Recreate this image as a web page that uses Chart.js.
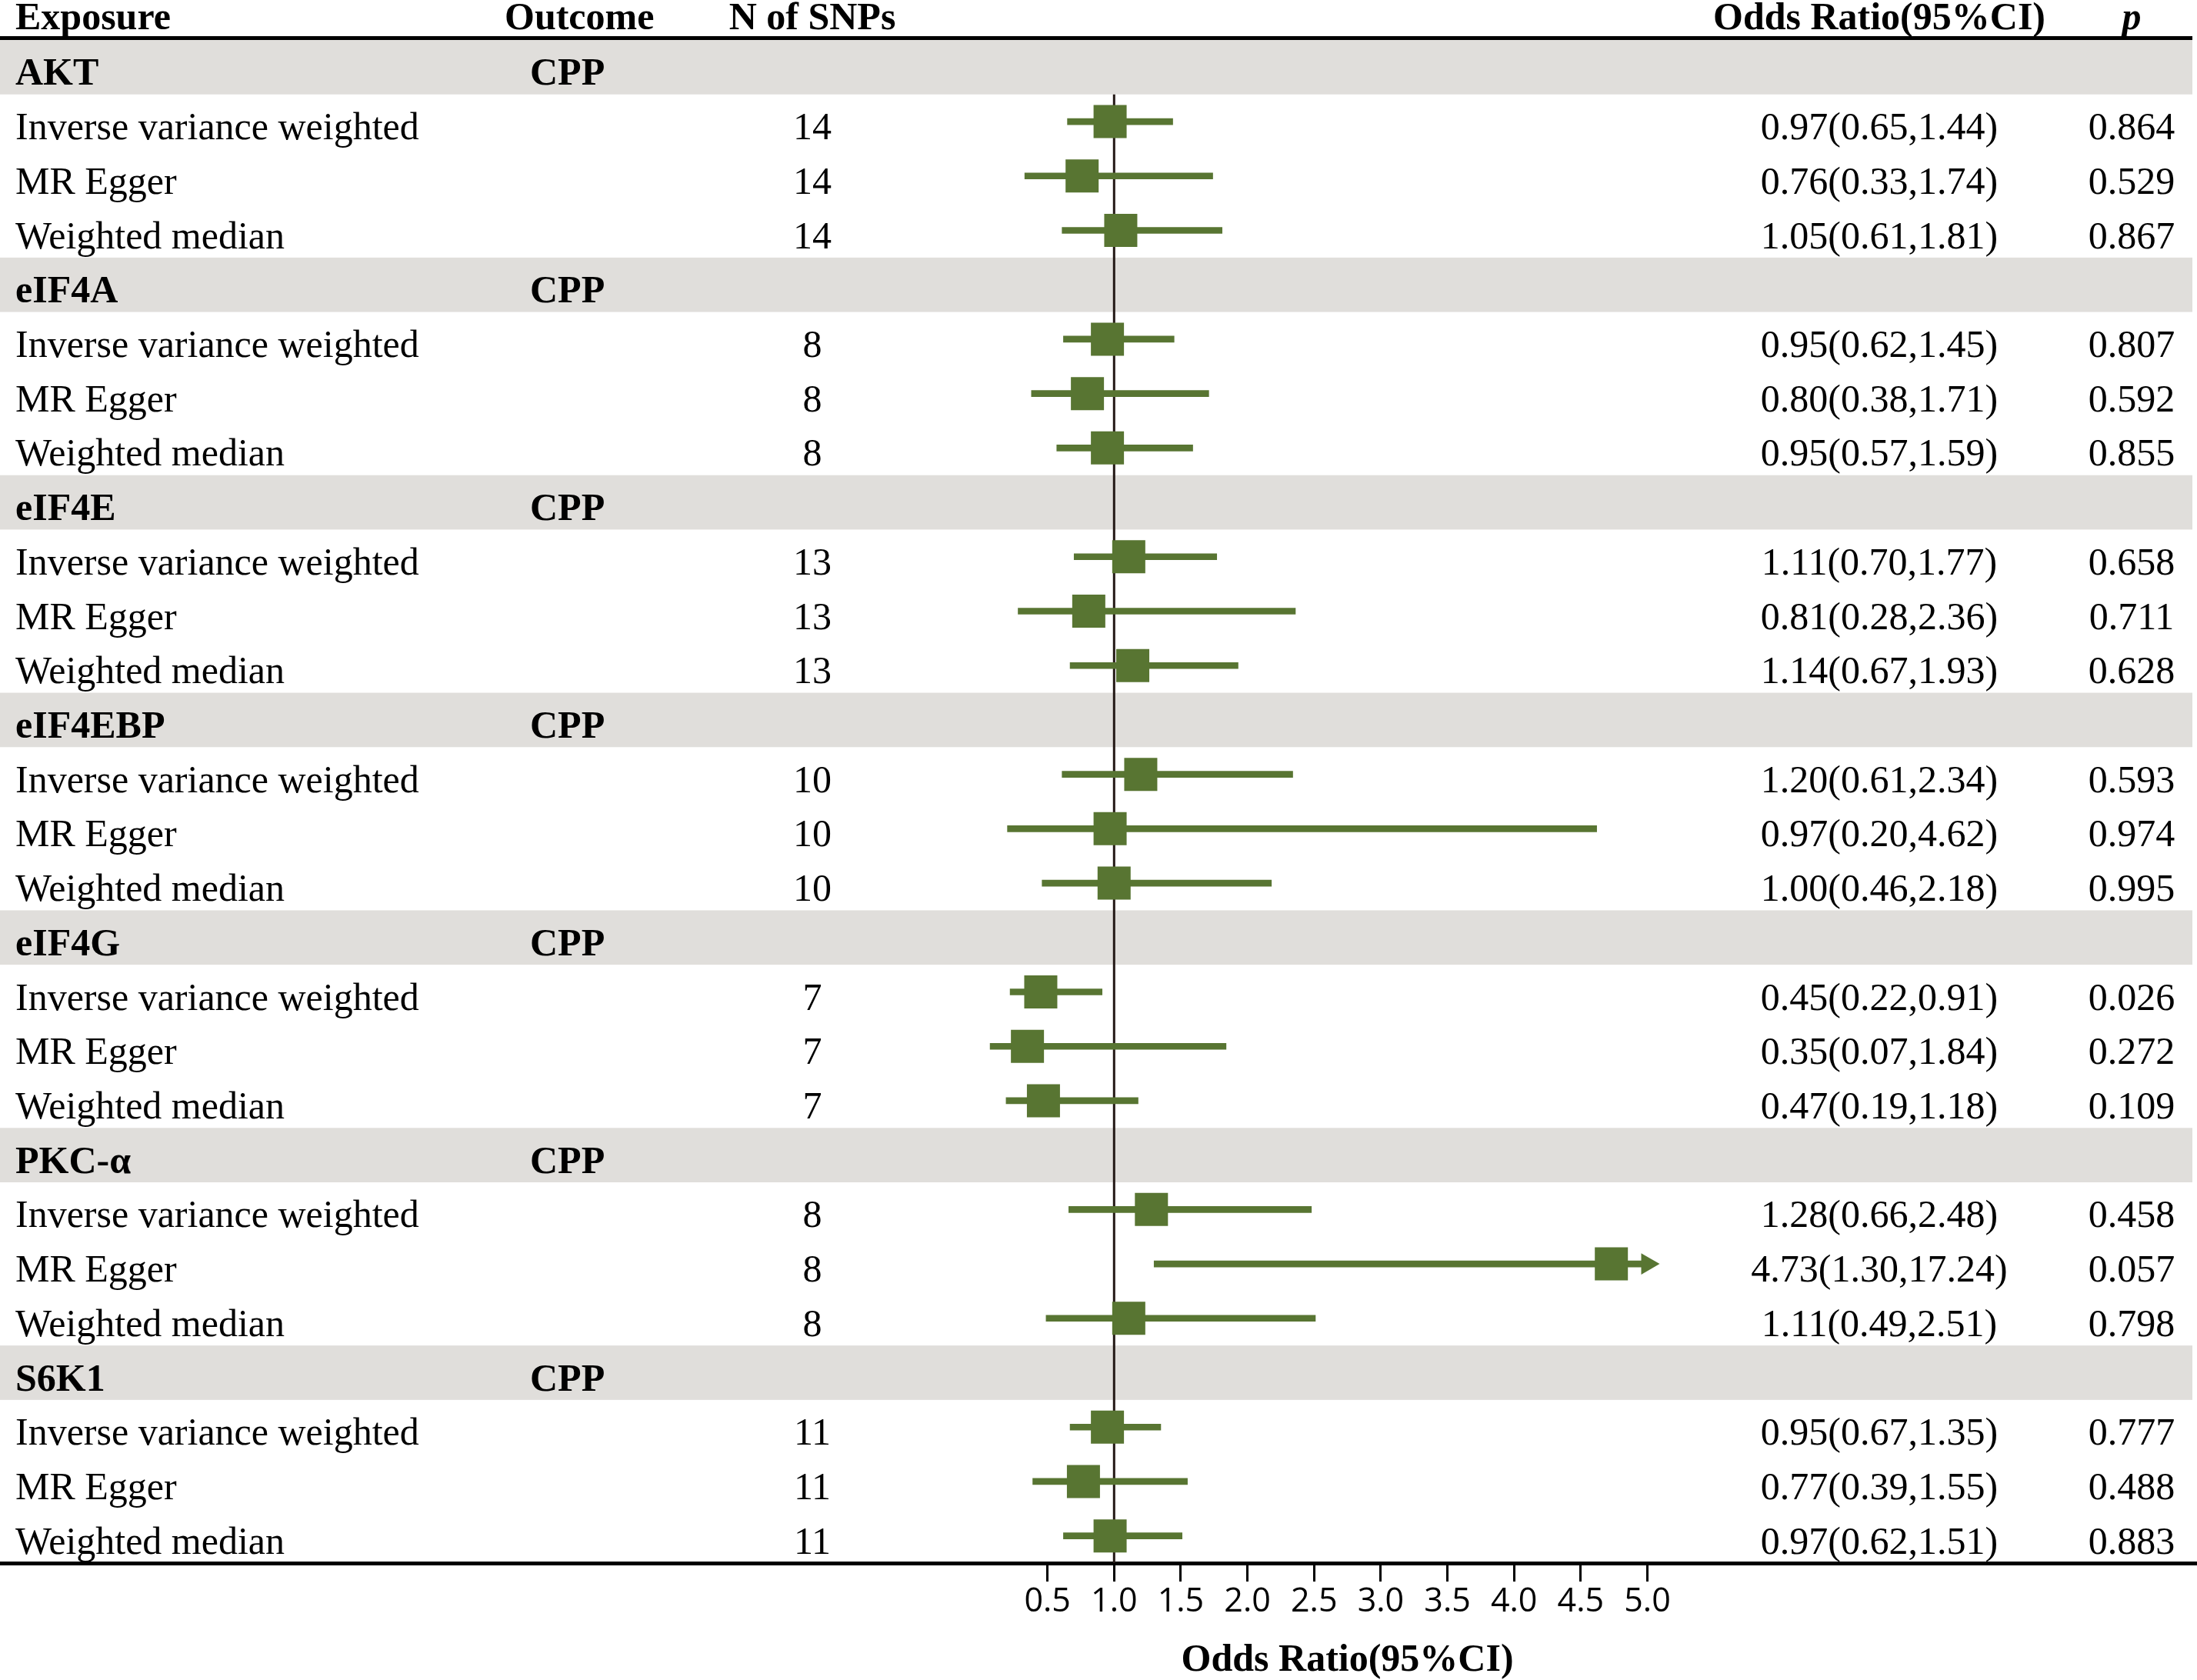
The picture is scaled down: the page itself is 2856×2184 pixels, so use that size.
<!DOCTYPE html>
<html>
<head>
<meta charset="utf-8">
<title>MR forest plot</title>
<script src="https://cdn.jsdelivr.net/npm/chart.js@4.4.1/dist/chart.umd.min.js"></script>
<style>
  html, body { margin: 0; padding: 0; background: #fff; }
  #wrap { width: 2856px; height: 2184px; }
</style>
</head>
<body>
<div id="wrap"><canvas id="chartCanvas" width="2856" height="2184"></canvas></div>
<script>
// ---- data ----
const exposures = ['AKT', 'eIF4A', 'eIF4E', 'eIF4EBP', 'eIF4G', 'PKC-α', 'S6K1'];
const outcomes = ['CPP', 'CPP', 'CPP', 'CPP', 'CPP', 'CPP', 'CPP'];
const methods = ['Inverse variance weighted', 'MR Egger', 'Weighted median'];
const nSnps = [14, 8, 13, 10, 7, 8, 11];

// one entry per exposure x method (IVW, MR Egger, WM)
const orValues = [0.97, 0.76, 1.05,  0.95, 0.80, 0.95,  1.11, 0.81, 1.14,  1.20, 0.97, 1.00,
                  0.45, 0.35, 0.47,  1.28, 4.73, 1.11,  0.95, 0.77, 0.97];
const ciLower  = [0.65, 0.33, 0.61,  0.62, 0.38, 0.57,  0.70, 0.28, 0.67,  0.61, 0.20, 0.46,
                  0.22, 0.07, 0.19,  0.66, 1.30, 0.49,  0.67, 0.39, 0.62];
const ciUpper  = [1.44, 1.74, 1.81,  1.45, 1.71, 1.59,  1.77, 2.36, 1.93,  2.34, 4.62, 2.18,
                  0.91, 1.84, 1.18,  2.48, 17.24, 2.51, 1.35, 1.55, 1.51];
const pValues  = [0.864, 0.529, 0.867,  0.807, 0.592, 0.855,  0.658, 0.711, 0.628,  0.593, 0.974, 0.995,
                  0.026, 0.272, 0.109,  0.458, 0.057, 0.798,  0.777, 0.488, 0.883];

const xTicks = [0.5, 1.0, 1.5, 2.0, 2.5, 3.0, 3.5, 4.0, 4.5, 5.0];
const clipAt = 5.0;          // CIs beyond this get an arrow
const axisTitle = 'Odds Ratio(95%CI)';

// ---- layout ----
const W = 2856, H = 2184;
const xMin = -7.357, xMax = 9.123;   // puts the plot panel between the text columns
const rowsPerGroup = methods.length + 1;
const nRows = exposures.length * rowsPerGroup;
const serif = "'Liberation Serif', 'Times New Roman', serif";
const fontPx = 50;
const green = '#587532';
const band = '#e0dedb';
const col = { exposure: 20, outcomeHead: 656, outcome: 689, snps: 1056, or: 2443, p: 2771 };

function rowOf(g, m) { return g * rowsPerGroup + 1 + m; }
function idx(g, m) { return g * methods.length + m; }

const ciBars = [], squares = [], arrows = [];
exposures.forEach((e, g) => {
    methods.forEach((m, j) => {
        const k = idx(g, j);
        const r = rowOf(g, j);
        ciBars.push({ y: r, x: [ciLower[k], Math.min(ciUpper[k], clipAt)] });
        squares.push({ x: orValues[k], y: r });
        if (ciUpper[k] > clipAt) arrows.push({ x: clipAt, y: r });
    });
});

const tablePlugin = {
    id: 'table',
    beforeDatasetsDraw(chart) {
        const { ctx, scales: { y } } = chart;
        ctx.save();
        ctx.fillStyle = band;
        exposures.forEach((e, g) => {
            const top = y.getPixelForValue(g * rowsPerGroup - 0.5);
            const bot = y.getPixelForValue(g * rowsPerGroup + 0.5);
            ctx.fillRect(0, top, 2850, bot - top);
        });
        ctx.restore();
    },
    afterDraw(chart) {
        const { ctx, chartArea, scales: { x, y } } = chart;
        ctx.save();
        ctx.fillStyle = '#000';
        ctx.fillRect(0, chartArea.top - 5, 2850, 5);

        ctx.textBaseline = 'alphabetic';
        const put = (t, px, py, align) => { ctx.textAlign = align; ctx.fillText(t, px, py); };

        // header row
        const headY = chartArea.top - 14;
        ctx.font = `bold ${fontPx}px ${serif}`;
        put('Exposure', col.exposure, headY, 'left');
        put('Outcome', col.outcomeHead, headY, 'left');
        put('N of SNPs', col.snps, headY, 'center');
        put('Odds Ratio(95%CI)', col.or, headY, 'center');
        ctx.font = `italic bold ${fontPx}px ${serif}`;
        put('p', col.p, headY, 'center');

        exposures.forEach((e, g) => {
            const gy = y.getPixelForValue(g * rowsPerGroup) + 23;
            ctx.font = `bold ${fontPx}px ${serif}`;
            put(e, col.exposure, gy, 'left');
            put(outcomes[g], col.outcome, gy, 'left');
            ctx.font = `${fontPx}px ${serif}`;
            methods.forEach((m, j) => {
                const k = idx(g, j);
                const ry = y.getPixelForValue(rowOf(g, j)) + 23;
                put(m, col.exposure, ry, 'left');
                put(String(nSnps[g]), col.snps, ry, 'center');
                put(`${orValues[k].toFixed(2)}(${ciLower[k].toFixed(2)},${ciUpper[k].toFixed(2)})`, col.or, ry, 'center');
                put(pValues[k].toFixed(3), col.p, ry, 'center');
            });
        });

        // axis title, centred on the tick range
        ctx.font = `bold ${fontPx}px ${serif}`;
        const mid = (xTicks[0] + xTicks[xTicks.length - 1]) / 2;
        put(axisTitle, x.getPixelForValue(mid), H - 12, 'center');
        ctx.restore();
    }
};

const ctx = document.getElementById('chartCanvas').getContext('2d');
new Chart(ctx, {
    type: 'scatter',
    data: {
        datasets: [
            {
                type: 'scatter',
                data: squares,
                pointStyle: 'rect',
                pointRadius: 30.4,
                pointHoverRadius: 30.4,
                backgroundColor: green,
                borderWidth: 0,
                order: 0
            },
            {
                type: 'scatter',
                data: arrows,
                pointStyle: 'triangle',
                rotation: 90,
                pointRadius: 16,
                pointHoverRadius: 16,
                backgroundColor: green,
                borderWidth: 0,
                order: 1
            },
            {
                type: 'bar',
                indexAxis: 'y',
                data: ciBars,
                barThickness: 8,
                backgroundColor: green,
                borderWidth: 0,
                borderSkipped: false,
                order: 2
            },
            {
                type: 'line',
                data: [{ x: 1, y: 0.5 }, { x: 1, y: nRows - 0.5 }],
                borderColor: '#231815',
                borderWidth: 3,
                pointRadius: 0,
                showLine: true,
                fill: false,
                order: 3
            }
        ]
    },
    options: {
        responsive: false,
        devicePixelRatio: 1,
        animation: false,
        events: [],
        layout: { autoPadding: false, padding: { top: 52, left: 0, right: 0, bottom: 0 } },
        plugins: { legend: { display: false }, tooltip: { enabled: false } },
        scales: {
            x: {
                type: 'linear',
                position: 'bottom',
                offset: false,
                min: xMin,
                max: xMax,
                afterBuildTicks: (s) => { s.ticks = xTicks.map(v => ({ value: v })); },
                afterFit: (s) => { s.height = 152; },
                ticks: {
                    autoSkip: false,
                    maxRotation: 0,
                    padding: 1,
                    color: '#000',
                    font: { family: "'Open Sans', sans-serif", size: 43, lineHeight: 1.2 },
                    callback: (v) => Number(v).toFixed(1)
                },
                grid: { display: true, offset: false, drawOnChartArea: false, drawTicks: true, tickLength: 24, tickWidth: 3, tickColor: '#000' },
                border: { display: true, color: '#000', width: 5 },
                title: { display: false }
            },
            y: {
                type: 'linear',
                display: false,
                offset: false,
                grid: { offset: false },
                reverse: true,
                min: -0.5,
                max: nRows - 0.5
            }
        }
    },
    plugins: [tablePlugin]
});
</script>
</body>
</html>
